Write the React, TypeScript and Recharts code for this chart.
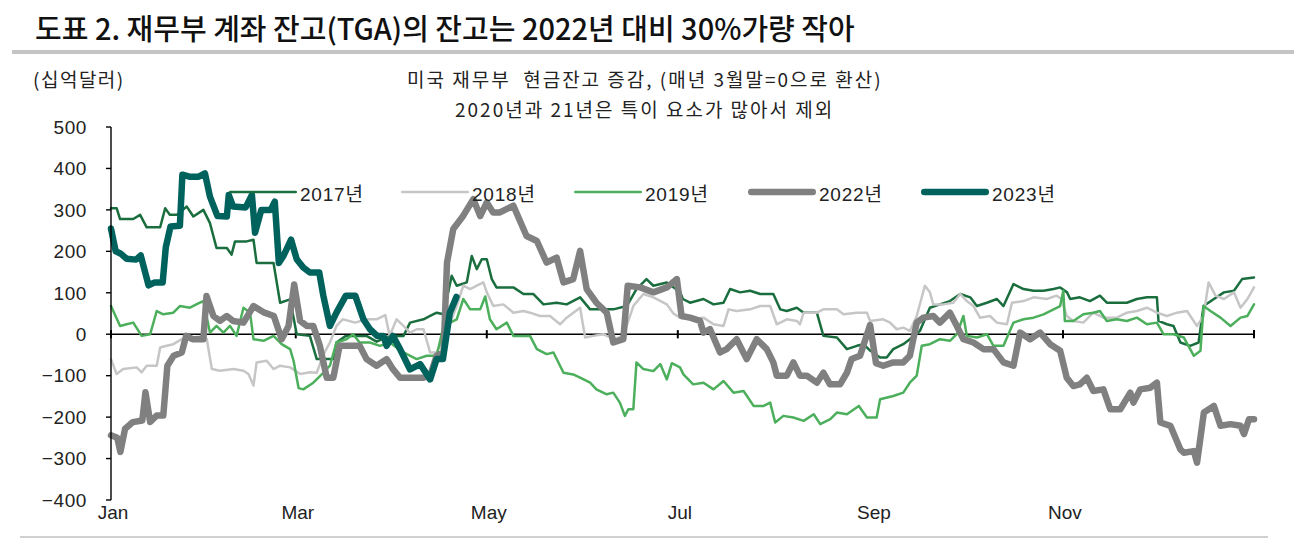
import { LineChart, Line, XAxis, YAxis, ReferenceLine } from 'recharts';

// x = day of year (0 = Jan 1), y = 십억달러, 3월말 = 0
const monthTicks = [0, 59, 120, 181, 243, 304];
const monthLabels = ['Jan', 'Mar', 'May', 'Jul', 'Sep', 'Nov'];
const yTicks = [-400, -300, -200, -100, 0, 100, 200, 300, 400, 500];

const days2017 = [0, 1.8, 2.9, 7.1, 9.3, 11.4, 15.7, 17.3, 18.8, 21, 24.2, 26.3, 29.5, 31.6, 33.7, 37, 38.5, 39.6, 43.3, 45.5, 46.5, 51.9, 54, 57.2, 59.3, 63.5, 65.7, 71, 72, 75, 81.6, 84.8, 89, 93.4, 95.5, 99.8, 101.9, 104, 106.2, 108.8, 110.4, 113.6, 115.2, 116.8, 118.4, 120, 121.6, 123.1, 128.5, 131.7, 134.9, 138.1, 142.3, 145.5, 149.8, 153, 160.4, 164.7, 167.8, 171, 173.2, 177.5, 181.8, 182.6, 184.9, 189.2, 192.4, 195.6, 197.7, 200.9, 204.1, 207.3, 211.5, 213.7, 215.8, 219, 221.2, 225.4, 227.5, 231.8, 235, 238.2, 240.3, 242.5, 245.6, 247.7, 249.8, 253, 255.1, 258.3, 261.5, 264.7, 267.9, 271.2, 274.4, 276.5, 279.7, 282.9, 285, 288.2, 291.4, 294.6, 297.8, 301, 303.1, 305.3, 306.3, 309.4, 312.6, 315.8, 318, 324.4, 327.6, 330.8, 334, 334.5, 337.2, 339.3, 341.5, 344.6, 347.3, 348.9, 352.2, 355.4, 358.6, 361.2, 365];
const vals2017 = [304, 304, 278, 278, 288, 258, 258, 304, 288, 288, 308, 284, 300, 268, 208, 208, 192, 224, 224, 228, 172, 172, 76, 84, 0, -4, -60, -60, -20, -4, -4, -18, -4, -4, 28, 36, 44, 52, 48, 141, 117, 125, 189, 157, 181, 181, 133, 113, 113, 97, 97, 72, 76, 72, 89, 60, 60, 68, 109, 133, 117, 125, 101, 85, 76, 85, 72, 76, 109, 101, 105, 97, 97, 60, 56, 64, 52, 52, -4, -8, -36, -28, -24, -40, -56, -56, -36, -24, -12, 8, 64, 72, 80, 97, 89, 68, 76, 85, 68, 121, 109, 105, 105, 109, 113, 101, 85, 89, 80, 93, 76, 76, 85, 89, 89, 32, 24, 20, -20, -28, -20, 68, 85, 101, 105, 133, 137];

const days2018 = [0, 1.8, 3.9, 8.2, 9.8, 11.4, 14.6, 15.7, 17.8, 19.9, 22.6, 26.3, 29.5, 30.6, 32.2, 34.8, 39.1, 42.3, 43.9, 45.5, 46.5, 49.7, 51.9, 54, 57.2, 60.4, 63.6, 65.7, 67.8, 69.9, 72, 74, 78, 81.6, 84.8, 87.6, 89, 91.2, 93.4, 95.5, 97.6, 99.8, 101.9, 104, 106.2, 108.3, 110.4, 112.5, 114.7, 116.8, 118.9, 120, 122.1, 125.3, 128.5, 131.7, 133.8, 137, 140.2, 143.4, 145.5, 149.8, 151.4, 154, 157.2, 160.4, 163.6, 166.8, 170, 173.2, 177.5, 179.6, 181.7, 184.9, 189.2, 192.4, 195.6, 197.2, 199.8, 204.1, 207.3, 210.5, 212.6, 215.8, 219, 220, 221.2, 225.4, 227.5, 231.8, 233.9, 238.2, 241.4, 242.4, 246.6, 248.8, 250.9, 253, 255.1, 257.3, 259.9, 261.5, 262.6, 265.8, 269, 271.2, 273.3, 275.4, 277.5, 280.7, 282.9, 286.1, 287.7, 291.4, 294.6, 298.8, 302, 303.5, 305.2, 307.3, 310.5, 313.7, 316.9, 321.2, 324.4, 327.6, 330.8, 334, 337.2, 340.4, 343.6, 346.8, 348.9, 350.5, 352.7, 355.4, 358.6, 360.7, 362.9, 365];
const vals2018 = [-60, -96, -84, -80, -92, -76, -76, -32, -28, -24, -12, -8, -4, -12, -84, -88, -84, -88, -96, -124, -68, -64, -84, -76, -80, -96, -92, -93, -50, -20, 20, 36, 28, 36, 36, 46, -4, 36, 20, 4, 12, 12, -44, -44, -4, 28, 68, 117, 109, 117, 125, 101, 68, 72, 52, 56, 52, 44, 44, 24, 40, 64, -8, -4, 0, -12, -4, 68, 97, 89, 72, 50, 40, 36, 40, 24, 20, 60, 56, 60, 68, 68, 24, 36, 32, 24, 52, 52, 60, 60, 48, 52, 52, 32, 36, 28, 12, 16, 8, 44, 117, 101, 72, 72, 76, 97, 80, 68, 40, 44, 28, 24, 76, 80, 89, 85, 93, 85, 44, 32, 28, 52, 40, 40, 52, 56, 64, 52, 44, 52, 56, 20, 44, 125, 93, 85, 101, 64, 85, 113];

const days2019 = [0, 2.9, 5, 7.1, 9.8, 12.5, 14.6, 16.7, 19.9, 22, 25.2, 28.4, 29.5, 31.6, 33.7, 35.9, 38, 40.1, 42.3, 44.4, 45.5, 48.7, 51.9, 54.5, 57.2, 58.3, 59.9, 61.4, 64.6, 67.8, 69.9, 72, 75.2, 77.3, 79.4, 82.7, 85.9, 89, 93.4, 97.6, 100.8, 104, 106.2, 108.3, 110.4, 112.5, 114.7, 117.9, 119.5, 121, 123.1, 126.4, 128.5, 133.8, 136, 139.1, 141.3, 144.5, 147.6, 149.8, 153, 155, 158.3, 160.4, 162.5, 164.1, 165.2, 166.8, 167.8, 170, 173.2, 175.4, 177.5, 179.1, 181.7, 182.8, 185.9, 189.2, 192.4, 195.6, 198.8, 202, 205.2, 208.4, 210.5, 212.1, 214.7, 217.9, 221.2, 224.4, 226.5, 229.7, 231.8, 235, 238.8, 241.4, 244.5, 245.6, 249.8, 253, 255.1, 257.3, 258.9, 261.5, 264.7, 267.9, 270.1, 272.2, 273.3, 276.5, 279.7, 281.8, 285, 288.2, 291.4, 294.6, 297.8, 301, 303.1, 304.1, 304.6, 307.3, 310.5, 313.7, 315.8, 318, 321.2, 324.4, 327.6, 330.8, 334, 336.1, 339.3, 342.6, 345.8, 347.9, 348.9, 351.1, 354.3, 357.5, 360.7, 362.9, 365];
const vals2019 = [68, 20, 24, 28, -4, 0, 56, 48, 52, 68, 64, 76, 80, 4, 20, 4, 20, -4, 64, 52, -12, -16, -4, -24, -36, -64, -130, -133, -117, -93, -76, -20, -12, 0, -20, -20, -28, -20, -44, -60, -52, -52, 20, 28, 36, 85, 60, 60, 91, 36, 12, 28, -4, -4, -36, -48, -44, -93, -97, -105, -117, -133, -145, -141, -165, -197, -181, -181, -68, -84, -89, -72, -109, -70, -80, -97, -121, -117, -133, -113, -141, -137, -173, -173, -165, -213, -197, -201, -209, -193, -217, -205, -189, -193, -173, -201, -201, -157, -149, -141, -117, -100, -28, -24, -12, -16, 0, 44, -4, -8, 0, -28, -28, 28, 36, 40, 48, 60, 68, 105, 32, 32, 48, 52, 56, 32, 36, 32, 40, 24, 28, 0, 0, -8, -52, -40, 68, 56, 40, 20, 40, 44, 72];

const days2022 = [0, 2, 3, 4.5, 7, 10, 11, 12.5, 14.6, 16.7, 18, 20, 22.6, 24, 26, 29.5, 30.5, 32.7, 34.8, 37, 39, 42.3, 45.5, 49, 52, 54.5, 56.7, 58.5, 60.4, 62.5, 64.6, 66.7, 68.9, 71, 73, 79.4, 81.6, 84.8, 88, 90.1, 92.3, 99.8, 101.9, 104, 106.2, 107.3, 109.3, 112.5, 115.7, 117.9, 120, 122, 124.2, 128.5, 132.7, 136, 139.1, 142.3, 144.5, 147.6, 149.8, 151.9, 155, 158.3, 160.4, 163.6, 165, 169, 173.2, 177.5, 180.7, 182.2, 184.9, 188.1, 189.2, 191.3, 194.5, 196.6, 199.8, 203, 206.2, 209.4, 211.5, 212.6, 215.8, 217.9, 220, 222.2, 225.4, 227.5, 229.6, 232.8, 235, 236.5, 239.2, 242.4, 244.3, 246.6, 249.8, 253, 255.1, 257.3, 259.4, 262.6, 264.7, 267.9, 270.1, 272.2, 275.4, 278.6, 281.8, 285, 288.2, 290.3, 293.5, 296.7, 299.9, 303.1, 305.2, 307.3, 309.4, 311.6, 313.7, 316.9, 319.1, 322.3, 325.5, 326.5, 328.7, 331.9, 334, 335.1, 338.3, 341.5, 342.6, 345.8, 346.8, 349, 352.2, 354.3, 357.5, 360.7, 361.8, 363.4, 365];
const vals2022 = [-244, -250, -284, -228, -212, -208, -140, -212, -196, -196, -76, -52, -44, -4, -12, -12, 92, 44, 32, 44, 32, 28, 68, 52, 44, -12, 20, 120, 32, 20, 20, -28, -105, -105, -28, -28, -60, -76, -60, -85, -105, -105, -100, -52, -44, 173, 254, 286, 326, 285, 318, 294, 294, 310, 237, 225, 173, 185, 125, 133, 201, 109, 76, 52, -20, -12, 117, 113, 101, 113, 133, 44, 40, 32, 4, 12, -44, -36, -12, -60, -12, -36, -68, -100, -100, -68, -100, -100, -117, -93, -121, -121, -93, -60, -52, 22, -70, -76, -68, -68, -52, 28, 40, 44, 28, 52, 20, -12, -20, -36, -36, -68, -76, 4, -12, 4, -24, -40, -105, -125, -121, -105, -137, -133, -181, -181, -141, -165, -133, -129, -117, -213, -221, -278, -286, -282, -310, -189, -173, -221, -217, -221, -241, -205, -205];

const days2023 = [0, 1.5, 3, 5, 8, 9.5, 12, 14, 16.5, 17.5, 19, 22, 22.8, 25, 28, 30, 31.6, 34, 37, 37.6, 39, 43, 45, 46, 48, 51, 52.3, 53.6, 55, 57.5, 59.3, 61.4, 63.5, 66.5, 67.8, 69.9, 72, 75, 78, 80.6, 82.7, 85, 87, 88, 90, 92.3, 95.5, 98.7, 101.9, 104, 106, 108.2, 110.3];
const vals2023 = [255, 200, 195, 182, 180, 190, 118, 125, 125, 210, 260, 262, 385, 380, 380, 388, 332, 285, 284, 336, 308, 306, 336, 245, 300, 300, 320, 172, 188, 228, 181, 161, 149, 149, 93, 20, 52, 93, 93, 36, 12, -4, -4, -28, -4, -36, -85, -72, -109, -60, -60, 52, 90];

const seriesNames = ['2017년', '2018년', '2019년', '2022년', '2023년'];
const seriesDays = [days2017, days2018, days2019, days2022, days2023];
const seriesVals = [vals2017, vals2018, vals2019, vals2022, vals2023];
const seriesColors = ['#1a6e3e', '#c6c6c6', '#4caf5b', '#808080', '#00625d'];
const seriesWidths = [2.5, 2.5, 2.5, 6.5, 6.5];

const legendLeft = [228, 400, 573, 747, 920];

const FONT = "'Liberation Sans', 'Noto Sans CJK KR', sans-serif";
const KFONT = "'Noto Sans CJK KR', sans-serif";

function LegendOverlay() {
  return (
    <div style={{ position: 'absolute', left: 0, top: 180, width: 1294, height: 24 }}>
      {seriesNames.map((name, i) => (
        <div
          key={name}
          style={{ position: 'absolute', left: legendLeft[i], top: 0, display: 'flex', alignItems: 'center', height: 24 }}
        >
          <svg width={70} height={10}>
            <line
              x1={seriesWidths[i] / 2 + 1}
              x2={69 - seriesWidths[i] / 2}
              y1={5}
              y2={5}
              stroke={seriesColors[i]}
              strokeWidth={seriesWidths[i]}
              strokeLinecap="round"
            />
          </svg>
          <span style={{ fontFamily: FONT, fontSize: 19, letterSpacing: 0.8, color: '#222', marginLeft: 2 }}>{name}</span>
        </div>
      ))}
    </div>
  );
}

function MonthTick(props: any) {
  const { x, y, payload } = props;
  const idx = monthTicks.indexOf(payload.value);
  return (
    <text x={x + 2} y={y + 17} textAnchor="middle" fontFamily={FONT} fontSize={19} fill="#222">
      {monthLabels[idx]}
    </text>
  );
}

export default function App() {
  const lines = seriesNames.map((name, i) => ({
    name,
    data: seriesDays[i].map((d, j) => ({ day: d, v: seriesVals[i][j] })),
  }));

  return (
    <div style={{ position: 'absolute', left: 0, top: 0, width: 1294, height: 555, background: '#fff', overflow: 'hidden' }}>
      <div
        style={{
          position: 'absolute', left: 35, top: 6, fontFamily: KFONT, fontSize: 29, fontWeight: 500,
          color: '#111', whiteSpace: 'nowrap',
        }}
      >
        도표 2. 재무부 계좌 잔고(TGA)의 잔고는 2022년 대비 30%가량 작아
      </div>
      <div style={{ position: 'absolute', left: 12, top: 50, width: 1282, height: 4, background: '#c4c4c4' }} />
      <div style={{ position: 'absolute', left: 33, top: 65, fontFamily: KFONT, fontSize: 19, letterSpacing: 1.5, color: '#222', whiteSpace: 'nowrap' }}>
        (십억달러)
      </div>
      <div style={{ position: 'absolute', left: 0, width: 1294, top: 65, fontFamily: KFONT, fontSize: 19, letterSpacing: 2, color: '#222', whiteSpace: 'pre' }}>
        <div style={{ position: 'absolute', left: 407, top: 0 }}>미국 재무부  현금잔고 증감, (매년 3월말=0으로 환산)</div>
        <div style={{ position: 'absolute', left: 455, top: 30 }}>2020년과 21년은 특이 요소가 많아서 제외</div>
      </div>

      <div style={{ position: 'absolute', left: 0, top: 0 }}>
        <LineChart width={1294} height={555} margin={{ top: 127, right: 40, bottom: 15, left: 0 }}>
          <XAxis
            type="number"
            dataKey="day"
            domain={[0, 365]}
            ticks={monthTicks}
            axisLine={false}
            tickLine={false}
            tickSize={0}
            height={40}
            tick={<MonthTick />}
            allowDuplicatedCategory={false}
          />
          <YAxis
            type="number"
            domain={[-400, 500]}
            ticks={yTicks}
            width={111}
            axisLine={{ stroke: '#000', strokeWidth: 1.4 }}
            tickLine={{ stroke: '#000', strokeWidth: 1.4 }}
            tickSize={5}
            tickMargin={19}
            tickFormatter={(v: number) => String(v).replace('-', '−')}
            tick={{ fontFamily: FONT, fontSize: 19, fill: '#222', letterSpacing: 0.6 }}
            interval={0}
          />
          <ReferenceLine y={0} stroke="#000" strokeWidth={1.4} />
          {[...monthTicks, 365].map(t => (
            <ReferenceLine
              key={t}
              segment={[{ x: t, y: -10 }, { x: t, y: 10 }]}
              stroke="#000"
              strokeWidth={2}
            />
          ))}
          {lines.map((s, i) => (
            <Line
              key={s.name}
              name={s.name}
              data={s.data}
              dataKey="v"
              type="linear"
              stroke={seriesColors[i]}
              strokeWidth={seriesWidths[i]}
              strokeLinejoin="round"
              strokeLinecap="round"
              dot={false}
              activeDot={false}
              isAnimationActive={false}
            />
          ))}
        </LineChart>
      </div>

      <LegendOverlay />
      <div style={{ position: 'absolute', left: 20, top: 536, width: 1248, height: 2, background: '#d0d0d0' }} />
    </div>
  );
}
